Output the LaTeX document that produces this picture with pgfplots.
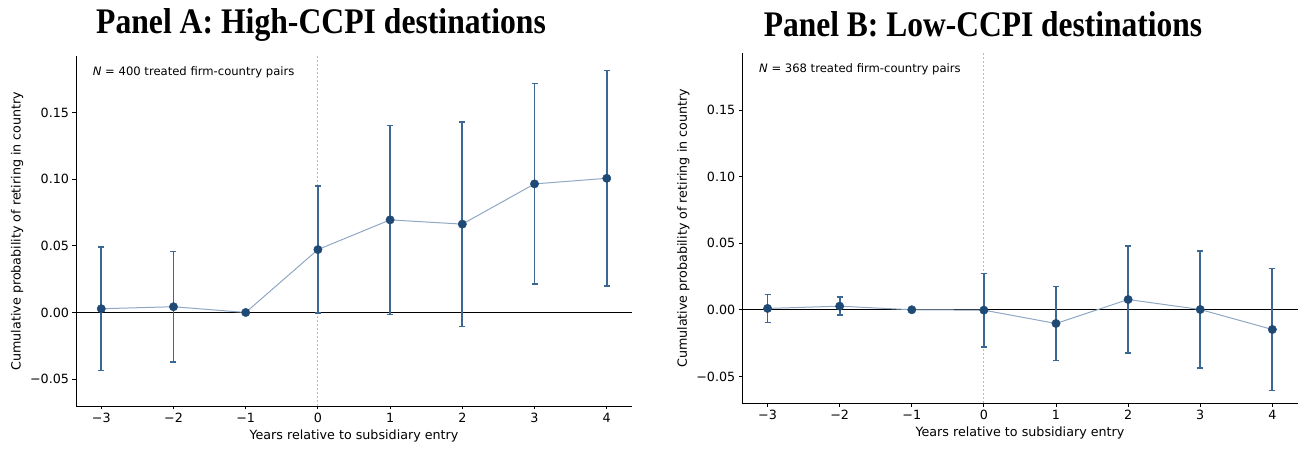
\documentclass[border=0pt]{standalone}
\usepackage{fontspec}
\setmainfont{DejaVu Sans}
\newfontfamily\titlefont{Liberation Serif}
\usepackage{graphicx}
\usepackage{pgfplots}
\pgfplotsset{compat=1.18}

\definecolor{ptcol}{HTML}{1F4A75}
\definecolor{barcol}{HTML}{3A6793}
\definecolor{linecol}{HTML}{8FA8C4}
\definecolor{vline}{HTML}{BBBBBB}

% event-time estimates with 95% confidence half-widths
\pgfplotstableread{
x  y       ep      em
-3 0.0028  0.0465  0.0465
-2 0.0043  0.0413  0.0413
-1 0.0000  0.0000  0.0000
0  0.0472  0.0477  0.0477
1  0.0695  0.0710  0.0710
2  0.0663  0.0768  0.0768
3  0.0965  0.0752  0.0752
4  0.1007  0.0809  0.0809
}\highccpi

\pgfplotstableread{
x  y        ep      em
-3 0.0010   0.0105  0.0105
-2 0.0027   0.0068  0.0068
-1 0.0000   0.0000  0.0000
0  -0.0003  0.0277  0.0277
1  -0.0103  0.0278  0.0278
2  0.0077   0.0403  0.0403
3  0.0002   0.0438  0.0438
4  -0.0148  0.0458  0.0458
}\lowccpi

\pgfplotsset{
  panel/.style={
    scale only axis, height=350pt,
    xmin=-3.35, xmax=4.35, ymin=-0.0702, ymax=0.1925,
    axis x line*=bottom, axis y line*=left,
    xtick={-3,-2,-1,0,1,2,3,4},
    xticklabels={−3,−2,−1,0,1,2,3,4},
    ytick={-0.05,0,0.05,0.1,0.15},
    yticklabels={−0.05,0.00,0.05,0.10,0.15},
    tick align=outside, major tick length=3.5pt,
    tick style={black, line width=0.8pt},
    axis line style={black, line width=0.8pt},
    every tick label/.append style={font=\fontsize{12.7}{14}\selectfont},
    label style={font=\fontsize{12.7}{14}\selectfont},
    xlabel={Years relative to subsidiary entry},
    ylabel={Cumulative probability of retiring in country},
    clip=false,
  },
  est/.style={
    only marks, mark=*, mark size=4.2pt,
    mark options={ptcol, fill=ptcol},
    error bars/.cd, y dir=both, y explicit,
    error bar style={draw=barcol, line width=1.9pt},
    error mark options={draw=barcol, line width=1.5pt, mark size=3pt, rotate=90},
  },
}

\newcommand{\paneldraw}[2]{%
  \addplot[vline, line width=0.8pt, dash pattern=on 2pt off 2pt] coordinates {(0,-0.0702) (0,0.1925)};
  \addplot[black, line width=0.9pt] coordinates {(-3.35,0) (4.35,0)};
  \addplot[linecol, line width=1pt] table[x=x, y=y] {#1};
  \addplot[est] table[x=x, y=y, y error plus=ep, y error minus=em] {#1};
  \node[anchor=north west, inner sep=0pt, font=\fontsize{11.6}{13}\selectfont]
    at (rel axis cs:0.03,0.97) {\textit{N} = #2 treated firm-country pairs};
}

\begin{document}
\begin{tikzpicture}
\path[use as bounding box] (0,0) rectangle (1299pt,449pt);

\begin{axis}[panel, width=556pt, at={(76pt,43pt)}, anchor=south west]
  \paneldraw{\highccpi}{400}
\end{axis}

\begin{axis}[panel, width=555.3pt, at={(742.3pt,45.7pt)}, anchor=south west]
  \paneldraw{\lowccpi}{368}
\end{axis}

\node[anchor=base, inner sep=0pt, font=\titlefont\bfseries\fontsize{36}{40}\selectfont]
  at (321pt,415.8pt) {\scalebox{0.88}[1]{Panel A: High-CCPI destinations}};
\node[anchor=base, inner sep=0pt, font=\titlefont\bfseries\fontsize{36}{40}\selectfont]
  at (983pt,412.3pt) {\scalebox{0.875}[1]{Panel B: Low-CCPI destinations}};
\end{tikzpicture}
\end{document}
